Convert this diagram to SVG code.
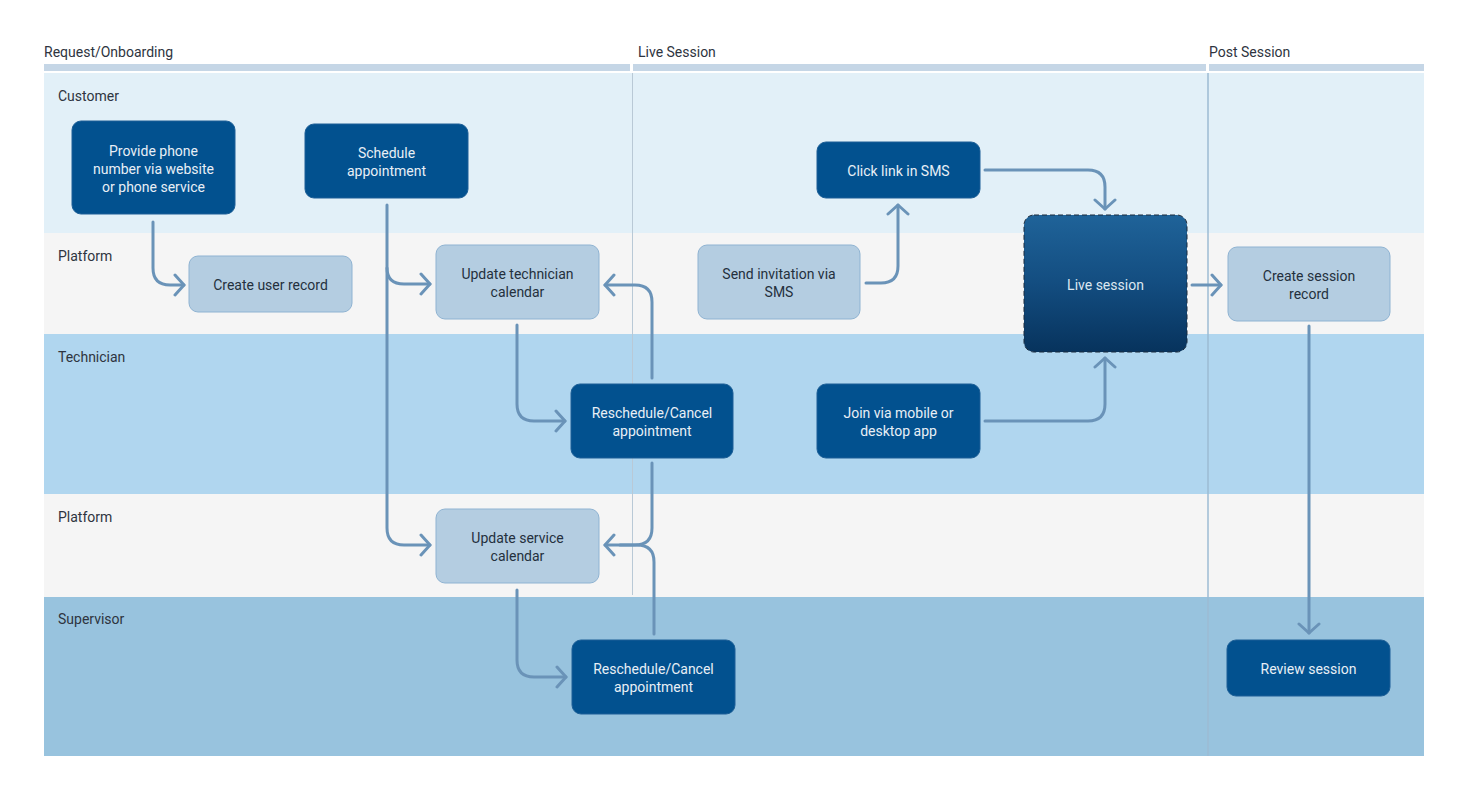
<svg xmlns="http://www.w3.org/2000/svg" width="1471" height="799" viewBox="0 0 1471 799">
<style>
text{font-family:Roboto,"Liberation Sans",sans-serif;}
.hdr{font-size:14px;fill:#2e3440;}
.lane-lbl{font-size:14px;fill:#2e3440;}
.dark rect{fill:#02518f;stroke:#1d5f97;stroke-width:1;}
.dark text{fill:#e8eff6;font-size:14px;text-anchor:middle;}
.light rect{fill:#b4cde1;stroke:#8fb3d2;stroke-width:1;}
.light text{fill:#24303d;font-size:14px;text-anchor:middle;}
.conn path{fill:none;stroke:#6a93b8;stroke-width:3;stroke-linecap:round;}
</style>
<defs>
<marker id="arr" markerUnits="userSpaceOnUse" viewBox="-12 -12 24 24" markerWidth="24" markerHeight="24" refX="0" refY="0" orient="auto">
<path d="M-9,-10 L0,0 L-9,10" fill="none" stroke="#6a93b8" stroke-width="3" stroke-linecap="round" stroke-linejoin="round"/>
</marker>
<linearGradient id="liveg" x1="0" y1="0" x2="0" y2="1">
<stop offset="0" stop-color="#1f6399"/>
<stop offset="0.5" stop-color="#134d80"/>
<stop offset="1" stop-color="#07335d"/>
</linearGradient>
</defs>
<rect width="1471" height="799" fill="#ffffff"/>
<g id="lanes">
<rect x="44" y="64" width="586" height="7" fill="#c5d6e6"/>
<rect x="633" y="64" width="573" height="7" fill="#c5d6e6"/>
<rect x="1209" y="64" width="215" height="7" fill="#c5d6e6"/>
<text class="hdr" x="44" y="57">Request/Onboarding</text>
<text class="hdr" x="638" y="57">Live Session</text>
<text class="hdr" x="1209" y="57">Post Session</text>
<rect x="44" y="73" width="1380" height="160" fill="#e2f0f8"/>
<rect x="44" y="233" width="1380" height="101" fill="#f5f5f5"/>
<rect x="44" y="334" width="1380" height="160" fill="#b0d6ef"/>
<rect x="44" y="494" width="1380" height="103" fill="#f5f5f5"/>
<rect x="44" y="597" width="1380" height="159" fill="#98c3de"/>
<line x1="632.5" y1="73" x2="632.5" y2="595" stroke="#b9c9d6" stroke-width="1"/>
<line x1="1208" y1="73" x2="1208" y2="756" stroke="#9dbbd3" stroke-width="1.5"/>
<text class="lane-lbl" x="58" y="101">Customer</text>
<text class="lane-lbl" x="58" y="261">Platform</text>
<text class="lane-lbl" x="58" y="362">Technician</text>
<text class="lane-lbl" x="58" y="522">Platform</text>
<text class="lane-lbl" x="58" y="624">Supervisor</text>
</g>
<g id="connectors" class="conn">
<path d="M153 222 V268 Q153 285 170 285 H184" marker-end="url(#arr)"/>
<path d="M387 205 V268 Q387 284 404 284 H430" marker-end="url(#arr)"/>
<path d="M387 268 V528 Q387 545 404 545 H430" marker-end="url(#arr)"/>
<path d="M517 325 V404 Q517 421 534 421 H565" marker-end="url(#arr)"/>
<path d="M652 378 V302 Q652 285 635 285 H605" marker-end="url(#arr)"/>
<path d="M652 463 V528 Q652 545 635 545 H605" marker-end="url(#arr)"/>
<path d="M654 634 V562 Q654 545 637 545 H620"/>
<path d="M517 590 V660 Q517 677 534 677 H566" marker-end="url(#arr)"/>
<path d="M866 283 H881 Q898 283 898 266 V205" marker-end="url(#arr)"/>
<path d="M985 170 H1088 Q1105 170 1105 187 V209" marker-end="url(#arr)"/>
<path d="M985 421 H1088 Q1105 421 1105 404 V358" marker-end="url(#arr)"/>
<path d="M1192 285 H1221" marker-end="url(#arr)"/>
<path d="M1309 326 V633" marker-end="url(#arr)"/>
</g>
<g id="n-provide" class="dark">
<rect x="72" y="121" width="163" height="93" rx="9"/>
<text x="153.5" y="156">Provide phone</text>
<text x="153.5" y="174">number via website</text>
<text x="153.5" y="192">or phone service</text>
</g>
<g id="n-schedule" class="dark">
<rect x="305" y="124" width="163" height="74" rx="9"/>
<text x="386.5" y="158">Schedule</text>
<text x="386.5" y="176">appointment</text>
</g>
<g id="n-create-user" class="light">
<rect x="189" y="256" width="163" height="56" rx="9"/>
<text x="270.5" y="290">Create user record</text>
</g>
<g id="n-update-tech" class="light">
<rect x="436" y="245" width="163" height="74" rx="9"/>
<text x="517.5" y="279">Update technician</text>
<text x="517.5" y="297">calendar</text>
</g>
<g id="n-send-sms" class="light">
<rect x="698" y="245" width="162" height="74" rx="9"/>
<text x="779" y="279">Send invitation via</text>
<text x="779" y="297">SMS</text>
</g>
<g id="n-click-link" class="dark">
<rect x="817" y="142" width="163" height="56" rx="9"/>
<text x="898.5" y="176">Click link in SMS</text>
</g>
<g id="n-live">
<rect x="1024" y="215" width="163" height="137" rx="10" fill="url(#liveg)" stroke="#1b2b3d" stroke-width="1" stroke-dasharray="5 3"/>
<text x="1105.5" y="290" fill="#dce7f1" font-size="14" text-anchor="middle">Live session</text>
</g>
<g id="n-create-session" class="light">
<rect x="1228" y="247" width="162" height="74" rx="9"/>
<text x="1309" y="281">Create session</text>
<text x="1309" y="299">record</text>
</g>
<g id="n-resched-tech" class="dark">
<rect x="571" y="384" width="162" height="74" rx="9"/>
<text x="652" y="418">Reschedule/Cancel</text>
<text x="652" y="436">appointment</text>
</g>
<g id="n-join" class="dark">
<rect x="817" y="384" width="163" height="74" rx="9"/>
<text x="898.5" y="418">Join via mobile or</text>
<text x="898.5" y="436">desktop app</text>
</g>
<g id="n-update-service" class="light">
<rect x="436" y="509" width="163" height="74" rx="9"/>
<text x="517.5" y="543">Update service</text>
<text x="517.5" y="561">calendar</text>
</g>
<g id="n-resched-sup" class="dark">
<rect x="572" y="640" width="163" height="74" rx="9"/>
<text x="653.5" y="674">Reschedule/Cancel</text>
<text x="653.5" y="692">appointment</text>
</g>
<g id="n-review" class="dark">
<rect x="1227" y="640" width="163" height="56" rx="9"/>
<text x="1308.5" y="674">Review session</text>
</g>
</svg>
